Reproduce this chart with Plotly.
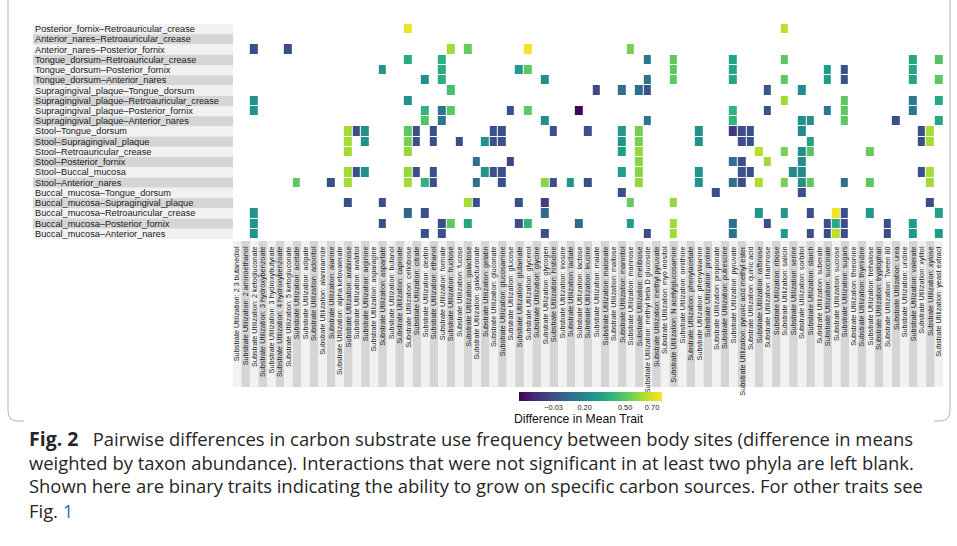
import numpy as np
import plotly.graph_objects as go

# Site pairs (rows, top to bottom)
site_pairs = [
    "Posterior_fornix\u2013Retroauricular_crease",
    "Anterior_nares\u2013Retroauricular_crease",
    "Anterior_nares\u2013Posterior_fornix",
    "Tongue_dorsum\u2013Retroauricular_crease",
    "Tongue_dorsum\u2013Posterior_fornix",
    "Tongue_dorsum\u2013Anterior_nares",
    "Supragingival_plaque\u2013Tongue_dorsum",
    "Supragingival_plaque\u2013Retroauricular_crease",
    "Supragingival_plaque\u2013Posterior_fornix",
    "Supragingival_plaque\u2013Anterior_nares",
    "Stool\u2013Tongue_dorsum",
    "Stool\u2013Supragingival_plaque",
    "Stool\u2013Retroauricular_crease",
    "Stool\u2013Posterior_fornix",
    "Stool\u2013Buccal_mucosa",
    "Stool\u2013Anterior_nares",
    "Buccal_mucosa\u2013Tongue_dorsum",
    "Buccal_mucosa\u2013Supragingival_plaque",
    "Buccal_mucosa\u2013Retroauricular_crease",
    "Buccal_mucosa\u2013Posterior_fornix",
    "Buccal_mucosa\u2013Anterior_nares",
]

# Carbon substrates (columns, left to right)
substrates = [
    "2 3 butanediol", "2 aminoethanol", "2 ketogluconate", "3 hydroxybenzoate",
    "3 hydroxybutyrate", "4 hydroxybenzoate", "5 ketogluconate", "acetate",
    "adipate", "adonitol", "alaninamide", "alanine", "alpha ketovalerate",
    "arabinose", "arabitol", "arginine", "asparagine", "aspartate", "butanol",
    "caproate", "cellobiose", "citrate", "dextrin", "ethanol", "formate",
    "fructose", "fucose", "galactose", "galacturonate", "gelatin", "gluconate",
    "glucosamine", "glucose", "glutamate", "glycerol", "glycine", "glycogen",
    "histidine", "inosine", "lactate", "lactose", "leucine", "malate",
    "malonate", "maltose", "mannitol", "mannose", "melibiose",
    "methyl beta D glucoside", "methyl pyruvate", "myo inositol",
    "N acetylglucosamine", "ornithine", "phenylacetate", "phenylalanine",
    "proline", "propionate", "putrescine", "pyruvate",
    "pyruvic acid methyl ester", "quinic acid", "raffinose", "rhamnose",
    "ribose", "salicin", "serine", "sorbitol", "starch", "suberate",
    "succinate", "sucrose", "sugars", "threonine", "thymidine", "trehalose",
    "tryptophan", "Tween 80", "urea", "uridine", "valerate", "xylitol",
    "xylose", "yeast extract",
]
substrate_labels = ["Substrate Utilization: " + s for s in substrates]

# Significant differences in mean trait: (site pair index, substrate, value)
differences = [
    (0, "cellobiose", 0.74), (0, "salicin", 0.66),
    (2, "2 ketogluconate", -0.03), (2, "5 ketogluconate", -0.03),
    (2, "fructose", 0.62), (2, "galactose", 0.52), (2, "glycerol", 0.75),
    (2, "mannose", 0.55),
    (3, "cellobiose", 0.36), (3, "formate", 0.38),
    (3, "methyl beta D glucoside", 0.12), (3, "N acetylglucosamine", 0.50),
    (3, "pyruvate", 0.33), (3, "salicin", 0.50), (3, "valerate", 0.33),
    (3, "yeast extract", 0.48),
    (4, "aspartate", 0.26), (4, "formate", 0.36), (4, "glutamate", 0.28),
    (4, "glycerol", 0.50), (4, "N acetylglucosamine", 0.50),
    (4, "pyruvate", 0.33), (4, "succinate", 0.30), (4, "sugars", -0.02),
    (4, "valerate", 0.33),
    (5, "dextrin", 0.24), (5, "formate", 0.38), (5, "glycogen", 0.24),
    (5, "methyl beta D glucoside", 0.12), (5, "N acetylglucosamine", 0.50),
    (5, "pyruvate", 0.33), (5, "salicin", 0.50), (5, "succinate", 0.30),
    (5, "sugars", -0.02), (5, "valerate", 0.33), (5, "yeast extract", 0.50),
    (6, "fructose", 0.45), (6, "malate", -0.05), (6, "mannitol", 0.10),
    (6, "melibiose", 0.08), (6, "methyl beta D glucoside", -0.02),
    (6, "rhamnose", 0.00), (6, "sorbitol", 0.22),
    (7, "2 ketogluconate", 0.25), (7, "cellobiose", 0.24),
    (7, "salicin", 0.62), (7, "sugars", 0.50), (7, "valerate", 0.14),
    (7, "yeast extract", 0.34),
    (8, "2 ketogluconate", 0.25), (8, "dextrin", 0.40), (8, "formate", 0.12),
    (8, "fructose", 0.50), (8, "glucose", -0.03), (8, "glycerol", 0.50),
    (8, "lactose", -0.28), (8, "pyruvate", 0.40), (8, "rhamnose", -0.02),
    (8, "succinate", 0.12), (8, "sugars", 0.50), (8, "valerate", 0.12),
    (9, "dextrin", 0.48), (9, "formate", 0.12), (9, "glycogen", 0.24),
    (9, "methyl beta D glucoside", 0.12), (9, "pyruvate", 0.40),
    (9, "sorbitol", 0.24), (9, "starch", 0.24), (9, "sugars", 0.50),
    (9, "urea", -0.03), (9, "yeast extract", 0.34),
    (10, "arabinose", 0.62), (10, "arabitol", -0.03), (10, "arginine", 0.24),
    (10, "cellobiose", 0.50), (10, "citrate", -0.03), (10, "ethanol", -0.03),
    (10, "gluconate", -0.03), (10, "glucosamine", -0.03),
    (10, "histidine", -0.03), (10, "leucine", -0.03), (10, "mannitol", 0.28),
    (10, "melibiose", 0.55), (10, "phenylalanine", 0.24),
    (10, "pyruvate", -0.12), (10, "pyruvic acid methyl ester", -0.03),
    (10, "quinic acid", -0.03), (10, "sorbitol", 0.22),
    (10, "xylitol", -0.03), (10, "xylose", 0.63),
    (11, "arabinose", 0.62), (11, "arginine", 0.24), (11, "cellobiose", 0.55),
    (11, "citrate", -0.03), (11, "ethanol", -0.03), (11, "fucose", -0.03),
    (11, "gelatin", 0.26), (11, "gluconate", -0.03),
    (11, "glucosamine", -0.03), (11, "mannitol", 0.26),
    (11, "melibiose", 0.55), (11, "phenylalanine", 0.24),
    (11, "pyruvic acid methyl ester", -0.03), (11, "quinic acid", -0.03),
    (11, "starch", 0.32), (11, "xylitol", -0.03), (11, "xylose", 0.63),
    (12, "arabinose", 0.62), (12, "cellobiose", 0.60), (12, "mannitol", 0.30),
    (12, "melibiose", 0.60), (12, "raffinose", 0.66), (12, "salicin", 0.55),
    (12, "sorbitol", 0.24), (12, "starch", 0.48), (12, "trehalose", 0.52),
    (13, "galacturonate", 0.10), (13, "glucose", -0.08),
    (13, "melibiose", 0.58), (13, "pyruvate", 0.10),
    (13, "pyruvic acid methyl ester", -0.03), (13, "rhamnose", 0.62),
    (13, "sorbitol", 0.24),
    (14, "arabinose", 0.62), (14, "arabitol", -0.03), (14, "arginine", 0.24),
    (14, "cellobiose", 0.60), (14, "citrate", -0.03), (14, "ethanol", -0.03),
    (14, "gelatin", 0.26), (14, "gluconate", -0.03),
    (14, "glucosamine", -0.03), (14, "mannitol", 0.30),
    (14, "melibiose", 0.58), (14, "phenylalanine", 0.26),
    (14, "pyruvic acid methyl ester", -0.03), (14, "quinic acid", -0.03),
    (14, "serine", 0.22), (14, "sorbitol", 0.22), (14, "xylitol", -0.03),
    (14, "xylose", 0.63),
    (15, "acetate", 0.50), (15, "alanine", -0.03), (15, "arabinose", 0.62),
    (15, "cellobiose", 0.62), (15, "dextrin", 0.40), (15, "ethanol", -0.03),
    (15, "galacturonate", 0.10), (15, "glucosamine", -0.03),
    (15, "glycogen", 0.58), (15, "histidine", -0.03), (15, "lactate", 0.26),
    (15, "leucine", -0.03), (15, "melibiose", 0.60),
    (15, "phenylalanine", 0.26), (15, "pyruvate", 0.10),
    (15, "pyruvic acid methyl ester", -0.03), (15, "raffinose", 0.64),
    (15, "salicin", 0.55), (15, "sorbitol", 0.24), (15, "starch", 0.50),
    (15, "sugars", 0.10), (15, "trehalose", 0.50), (15, "xylose", 0.62),
    (16, "mannitol", -0.03), (16, "propionate", -0.03),
    (16, "sorbitol", -0.03),
    (17, "arabinose", -0.03), (17, "aspartate", -0.03),
    (17, "galactose", 0.62), (17, "galacturonate", -0.03),
    (17, "glutamate", -0.03), (17, "glycogen", -0.10), (17, "mannose", 0.52),
    (17, "N acetylglucosamine", 0.60), (17, "xylose", -0.03),
    (18, "2 ketogluconate", 0.26), (18, "cellobiose", 0.06),
    (18, "dextrin", -0.03), (18, "glycogen", 0.08), (18, "raffinose", 0.26),
    (18, "salicin", 0.28), (18, "starch", -0.03), (18, "sucrose", 0.75),
    (18, "sugars", -0.03), (18, "trehalose", 0.28),
    (18, "yeast extract", 0.32),
    (19, "2 ketogluconate", 0.26), (19, "aspartate", -0.03),
    (19, "formate", -0.03), (19, "fructose", 0.50), (19, "galactose", 0.32),
    (19, "glutamate", -0.03), (19, "glycerol", 0.40), (19, "lactose", 0.08),
    (19, "mannose", 0.30), (19, "N acetylglucosamine", 0.62),
    (19, "pyruvate", 0.10), (19, "rhamnose", -0.03),
    (19, "succinate", -0.03), (19, "sucrose", 0.36), (19, "sugars", -0.03),
    (19, "Tween 80", -0.03), (19, "valerate", 0.28),
    (20, "2 ketogluconate", 0.26), (20, "dextrin", -0.03),
    (20, "formate", -0.03), (20, "glycogen", -0.03),
    (20, "methyl beta D glucoside", -0.03), (20, "N acetylglucosamine", 0.62),
    (20, "pyruvate", 0.10), (20, "salicin", 0.28), (20, "starch", -0.03),
    (20, "succinate", -0.03), (20, "sucrose", 0.66), (20, "sugars", -0.03),
    (20, "Tween 80", -0.03), (20, "valerate", 0.28),
    (20, "yeast extract", 0.28),
]

colorbar_ticks = [-0.03, 0.20, 0.50, 0.70]
colorbar_ticktext = ["\u22120.03", "0.20", "0.50", "0.70"]
colorbar_title = "Difference in Mean Trait"
color_range = (-0.29, 0.77)

caption_lines = [
    "<span style='font-size:19.5px'><b>Fig. 2</b></span>   Pairwise differences in carbon substrate use frequency between body sites (difference in means",
    "weighted by taxon abundance). Interactions that were not significant in at least two phyla are left blank.",
    "Shown here are binary traits indicating the ability to grow on specific carbon sources. For other traits see",
    "Fig. <span style='color:#2f6db5'>1</span>",
]

# ---- build matrix ----
n_rows, n_cols = len(site_pairs), len(substrates)
z = np.full((n_rows, n_cols), np.nan)
col_index = {s: i for i, s in enumerate(substrates)}
for r, s, v in differences:
    z[r, col_index[s]] = v

W, H = 957, 546


def px(x):
    return x / W


def py(y):
    return 1 - y / H


fig = go.Figure()
fig.add_trace(go.Heatmap(
    z=z,
    x=list(range(n_cols)),
    y=list(range(n_rows)),
    colorscale="Viridis",
    zmin=color_range[0], zmax=color_range[1],
    xgap=1, ygap=1,
    hoverongaps=False,
    colorbar=dict(
        orientation="h",
        x=px(590), xanchor="center",
        y=py(392), yanchor="top",
        len=143, lenmode="pixels",
        thickness=9,
        xpad=0, ypad=0,
        outlinewidth=0,
        tickvals=colorbar_ticks,
        ticktext=colorbar_ticktext,
        ticks="",
        tickfont=dict(family="Liberation Sans", size=7.4, color="#222"),
    ),
))

shapes = []
# alternating bands behind the row labels
for i in range(n_rows):
    shapes.append(dict(type="rect", xref="paper", yref="y",
                       x0=px(33), x1=px(233), y0=i - 0.5, y1=i + 0.5,
                       fillcolor="#f1f1f1" if i % 2 == 0 else "#d5d5d5",
                       line=dict(width=0), layer="below"))
# alternating bands behind the column labels
for j in range(n_cols):
    shapes.append(dict(type="rect", xref="x", yref="paper",
                       x0=j - 0.5, x1=j + 0.5, y0=py(387), y1=py(241),
                       fillcolor="#f1f1f1" if j % 2 == 0 else "#d5d5d5",
                       line=dict(width=0), layer="below"))
# rounded figure frame (the chart panel hides the middle of its bottom edge)
frame_left = (f"M {px(8)},{py(-2)} L {px(8)},{py(411)} "
              f"Q {px(8)},{py(421)} {px(18)},{py(421)} L {px(24)},{py(421)}")
frame_right = (f"M {px(934)},{py(421)} L {px(940)},{py(421)} "
               f"Q {px(950)},{py(421)} {px(950)},{py(411)} L {px(950)},{py(-2)}")
for path in (frame_left, frame_right):
    shapes.append(dict(type="path", xref="paper", yref="paper", path=path,
                       line=dict(color="#b4b4b4", width=1)))

annotations = []
for i, name in enumerate(site_pairs):
    annotations.append(dict(x=px(32.5), xref="paper", y=i, yref="y",
                            text=name, showarrow=False,
                            xanchor="left", yanchor="middle",
                            font=dict(family="Liberation Sans", size=9.2,
                                      color="#1a1a1a")))
# colour bar title, set below the bar
annotations.append(dict(x=px(579), xref="paper", y=py(418.5), yref="paper",
                        text=colorbar_title, showarrow=False,
                        xanchor="center", yanchor="middle", borderpad=0,
                        font=dict(family="Liberation Sans", size=12.2,
                                  color="#111")))
caption_y = [438.5, 462, 486, 510]
for line, yy in zip(caption_lines, caption_y):
    annotations.append(dict(x=px(28), xref="paper", y=py(yy), yref="paper",
                            text=line, showarrow=False, borderpad=0,
                            xanchor="left", yanchor="middle",
                            font=dict(family="Open Sans", size=18.4,
                                      color="#262626")))

fig.update_layout(
    width=W, height=H,
    margin=dict(l=0, r=0, t=0, b=0),
    paper_bgcolor="white", plot_bgcolor="white",
    shapes=shapes, annotations=annotations,
    xaxis=dict(domain=[px(232.8), px(943.3)], range=[-0.5, n_cols - 0.5],
               tickmode="array", tickvals=list(range(n_cols)),
               ticktext=substrate_labels, tickangle=-90, ticks="",
               ticklabelstandoff=5,
               tickfont=dict(family="Liberation Sans", size=7.3, color="#222"),
               showgrid=False, zeroline=False, showline=False),
    yaxis=dict(domain=[py(239), py(24)], range=[n_rows - 0.5, -0.5],
               showticklabels=False, ticks="", showgrid=False,
               zeroline=False, showline=False),
)

fig.write_html("out.html")
